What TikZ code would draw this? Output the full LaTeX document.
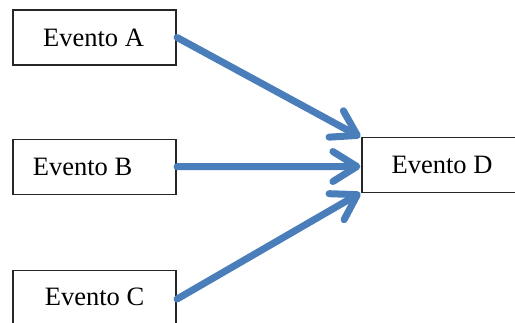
\documentclass[tikz,border=0pt]{standalone}
\usepackage{fontspec}
\setmainfont{Liberation Serif}
\usetikzlibrary{arrows.meta}
\definecolor{flow}{HTML}{4A7EBB}
\begin{document}
\begin{tikzpicture}[x=1pt,y=-1pt,
  evbox/.style={draw=black!85, line width=1.2pt, fill=white, rectangle,
    inner sep=0pt, minimum width=163pt, minimum height=55pt},
  evtext/.style={font=\fontsize{26.5}{30}\selectfont, inner sep=0pt, anchor=base},
  flowarrow/.style={draw=flow, line width=7pt, line cap=round,
    -{Straight Barb[length=24pt,width=30pt,round]}}]
  \useasboundingbox (0,0) rectangle (515,323);
  % event boxes
  \node[evbox] (a) at (94.5,37.5) {};
  \node[evbox] (b) at (94.5,166.7) {};
  \node[evbox] (c) at (94.5,298) {};
  \node[evbox, minimum width=160pt, minimum height=54.6pt] (d) at (442,165) {};
  % labels
  \node[evtext] (ta) at (93.5,47) {Evento A};
  \node[evtext] (tb) at (82.5,175.7) {Evento B};
  \node[evtext] (tc) at (94.5,306) {Evento C};
  \node[evtext] (td) at (442,173.3) {Evento D};
  % connectors
  \draw[flowarrow] ([xshift=0.5pt]a.east) -- ([xshift=-1pt]d.north west);
  \draw[flowarrow] ([xshift=0.5pt]b.east) -- ([xshift=-1pt,yshift=-1.5pt]d.west);
  \draw[flowarrow] ([xshift=0.5pt,yshift=-1pt]c.east) -- ([xshift=-1pt]d.south west);
\end{tikzpicture}
\end{document}
